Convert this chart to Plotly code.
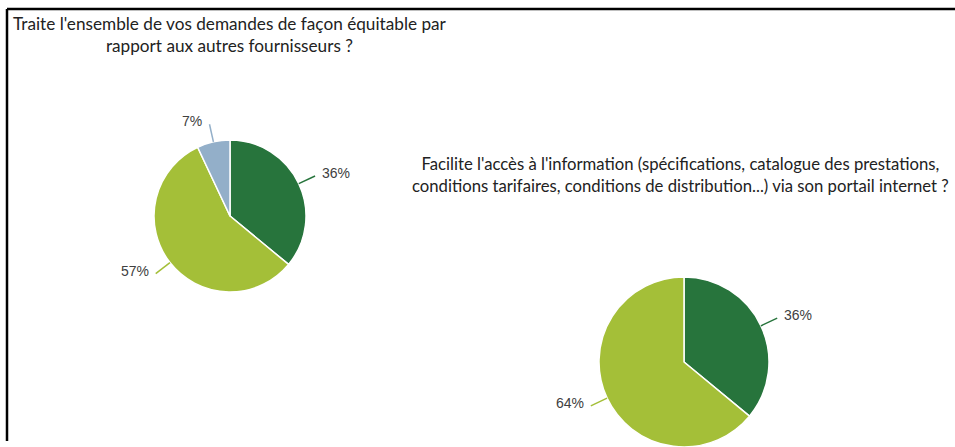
import math
import plotly.graph_objects as go

W, H = 955, 447

# ---- data ----
q1_title = "Traite l'ensemble de vos demandes de façon équitable par<br>rapport aux autres fournisseurs ?"
q1_labels = ["Oui", "Non", "Ne sait pas"]
q1_values = [36, 57, 7]
q1_colors = ["#27743C", "#A4BF38", "#93AFC9"]

q2_title = ("Facilite l'accès à l'information (spécifications, catalogue des prestations,<br>"
            "conditions tarifaires, conditions de distribution...) via son portail internet ?")
q2_labels = ["Oui", "Non"]
q2_values = [36, 64]
q2_colors = ["#27743C", "#A4BF38"]

# pie placement in pixels (center x, center y from top, radius)
pies = [
    dict(title=q1_title, labels=q1_labels, values=q1_values, colors=q1_colors,
         cx=230, cy=216, r=76, title_x=230, title_y=34, tsize=17.2),
    dict(title=q2_title, labels=q2_labels, values=q2_values, colors=q2_colors,
         cx=684, cy=362, r=85, title_x=680, title_y=175, tsize=16.7),
]

def px(x):
    return x / W

def py(y):
    return 1 - y / H

fig = go.Figure()
shapes = []
annotations = []

for p in pies:
    cx, cy, r = p["cx"], p["cy"], p["r"]
    y0 = max(0.0, py(cy + r))
    y1 = py(cy - r)
    fig.add_trace(go.Pie(
        labels=p["labels"], values=p["values"], sort=False,
        direction="clockwise", rotation=0,
        marker=dict(colors=p["colors"], line=dict(color="white", width=1.5)),
        textinfo="none", hoverinfo="label+percent", showlegend=False,
        domain=dict(x=[px(cx - r), px(cx + r)], y=[y0, y1]),
    ))
    total = sum(p["values"])
    cum = 0
    for v, c in zip(p["values"], p["colors"]):
        mid = (cum + v / 2) / total * 2 * math.pi
        cum += v
        dx, dy = math.sin(mid), -math.cos(mid)
        xa, ya = cx + r * dx, cy + r * dy
        xb, yb = cx + (r + 18) * dx, cy + (r + 18) * dy
        shapes.append(dict(type="line", xref="paper", yref="paper",
                           x0=px(xa), y0=py(ya), x1=px(xb), y1=py(yb),
                           line=dict(color=c, width=1.5)))
        right = dx >= 0
        annotations.append(dict(
            x=px(xb + (5 if right else -5)), y=py(yb - 3), xref="paper", yref="paper",
            text=f"{round(v / total * 100)}%", showarrow=False,
            xanchor="left" if right else "right", yanchor="middle",
            font=dict(family="Liberation Sans, Arial", size=14, color="#404040")))
    annotations.append(dict(
        x=px(p["title_x"]), y=py(p["title_y"]), xref="paper", yref="paper",
        text=p["title"], showarrow=False, xanchor="center", yanchor="middle",
        align="center",
        font=dict(family="Lato", size=p["tsize"], color="#222222")))

# frame lines
shapes.append(dict(type="line", xref="paper", yref="paper",
                   x0=px(7), y0=py(9), x1=px(W + 5), y1=py(9),
                   line=dict(color="black", width=2.5)))
shapes.append(dict(type="line", xref="paper", yref="paper",
                   x0=px(7), y0=py(9), x1=px(7), y1=py(441),
                   line=dict(color="black", width=2.5)))

fig.update_layout(
    width=W, height=H, margin=dict(l=0, r=0, t=0, b=0),
    paper_bgcolor="white", plot_bgcolor="white",
    shapes=shapes, annotations=annotations,
)

fig.write_html("out.html", config={"displayModeBar": False},
               post_script="document.body.style.margin='0';")
